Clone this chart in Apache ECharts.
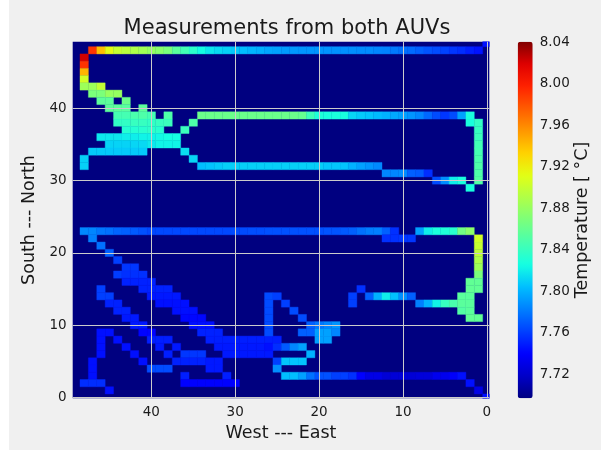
<!DOCTYPE html>
<html>
<head>
<meta charset="utf-8">
<script src="https://cdn.jsdelivr.net/npm/echarts@6/dist/echarts.min.js"></script>
<style>
  html, body { margin: 0; padding: 0; background: #fff; }
  #panel { position: absolute; left: 9px; top: 0; width: 592px; height: 450px; background: #f0f0f0; }
  #chart { position: absolute; left: 0; top: 0; width: 601px; height: 455px; }
</style>
</head>
<body>
<div id="panel"></div>
<div id="chart"></div>
<script>
// cells: [west-east index, south-north index, temperature]
const northTrack = [
  [47,48,7.99],[46,48,7.94],[45,48,7.913],[44,48,7.90],[43,48,7.895],[42,48,7.89],[41,48,7.885],[40,48,7.88],
  [39,48,7.875],[38,48,7.869],[37,48,7.855],[36,48,7.845],[35,48,7.835],[34,48,7.825],[33,48,7.817],[32,48,7.813],
  [31,48,7.81],[30,48,7.807],[29,48,7.804],[28,48,7.801],[27,48,7.799],[26,48,7.796],[25,48,7.794],[24,48,7.792],
  [23,48,7.791],[22,48,7.79],[21,48,7.79],[20,48,7.79],[19,48,7.789],[18,48,7.789],[17,48,7.788],[16,48,7.788],
  [15,48,7.787],[14,48,7.787],[13,48,7.785],[12,48,7.784],[11,48,7.781],[10,48,7.778],[9,48,7.776],[8,48,7.772],
  [7,48,7.768],[6,48,7.765],[5,48,7.762],[4,48,7.758],[3,48,7.755],[2,48,7.75],[1,48,7.746],[0,49,7.745]
];
const westLoop = [
  [48,47,8.022],[48,46,7.991],[48,45,7.944],[48,44,7.905],
  [48,43,7.883],[47,43,7.883],[46,43,7.898],
  [47,42,7.869],[46,42,7.869],[45,42,7.88],[44,42,7.88],
  [46,41,7.856],[45,41,7.856],[43,41,7.862],
  [45,40,7.856],[44,40,7.856],[43,40,7.854],[41,40,7.856],
  [44,39,7.846],[43,39,7.846],[42,39,7.848],[41,39,7.85],[40,39,7.846],[38,39,7.85],
  [44,38,7.838],[43,38,7.838],[42,38,7.84],[41,38,7.84],[40,38,7.838],[39,38,7.84],[38,38,7.842],[35,38,7.85],
  [43,37,7.832],[42,37,7.832],[41,37,7.834],[40,37,7.836],[39,37,7.834],[36,37,7.842],
  [46,36,7.818],[45,36,7.818],[44,36,7.818],[43,36,7.82],[42,36,7.82],[41,36,7.822],[40,36,7.822],[39,36,7.824],[38,36,7.826],[37,36,7.826],
  [45,35,7.811],[44,35,7.811],[43,35,7.811],[42,35,7.812],[41,35,7.813],[40,35,7.818],[39,35,7.822],[38,35,7.822],[37,35,7.822],
  [47,34,7.808],[46,34,7.808],[45,34,7.808],[44,34,7.808],[43,34,7.808],[42,34,7.808],[41,34,7.808],[36,34,7.815],
  [48,33,7.81],[35,33,7.812],[48,32,7.81]
];
const northLeg = [
  [34,39,7.862],[33,39,7.862],[32,39,7.862],[31,39,7.862],[30,39,7.862],[29,39,7.862],[28,39,7.862],[27,39,7.862],
  [26,39,7.862],[25,39,7.862],[24,39,7.862],[23,39,7.862],[22,39,7.86],[21,39,7.843],[20,39,7.83],[19,39,7.828],
  [18,39,7.828],[17,39,7.827],[16,39,7.812],[15,39,7.808],[14,39,7.806],[13,39,7.803],[12,39,7.8],[11,39,7.797],
  [10,39,7.794],[9,39,7.79],[8,39,7.785],[7,39,7.775],[6,39,7.765],[5,39,7.758],[4,39,7.765],[3,39,7.794],[2,39,7.828],
  [2,38,7.828],[1,38,7.838],[1,37,7.84],[1,36,7.842],[1,35,7.845],[1,34,7.846],[1,33,7.848],[1,32,7.85],[1,31,7.85],[1,30,7.852],
  [6,30,7.765],[5,30,7.788],[4,30,7.82],[3,30,7.828],[2,29,7.828]
];
const southLeg = [
  [34,32,7.804],[33,32,7.806],[32,32,7.808],[31,32,7.81],[30,32,7.81],[29,32,7.81],[28,32,7.81],[27,32,7.81],
  [26,32,7.81],[25,32,7.81],[24,32,7.81],[23,32,7.81],[22,32,7.81],[21,32,7.81],[20,32,7.81],[19,32,7.807],
  [18,32,7.807],[17,32,7.806],[16,32,7.8],[15,32,7.794],[14,32,7.79],[13,32,7.786],
  [12,31,7.785],[11,31,7.785],[10,31,7.787],[9,31,7.772],[8,31,7.77],[7,31,7.755]
];
const equatorRow = [
  [48,23,7.786],[47,23,7.785],[46,23,7.78],[45,23,7.778],[44,23,7.774],[43,23,7.772],[42,23,7.77],[41,23,7.767],
  [40,23,7.764],[39,23,7.764],[38,23,7.764],[37,23,7.764],[36,23,7.764],[35,23,7.764],[34,23,7.764],[33,23,7.764],
  [32,23,7.764],[31,23,7.764],[30,23,7.765],[29,23,7.765],[28,23,7.766],[27,23,7.766],[26,23,7.767],[25,23,7.767],
  [24,23,7.767],[23,23,7.767],[22,23,7.767],[21,23,7.767],[20,23,7.767],[19,23,7.768],[18,23,7.768],[17,23,7.77],
  [16,23,7.772],[15,23,7.778],[14,23,7.782],[13,23,7.783],[12,23,7.772],[11,23,7.756],
  [12,22,7.756],[11,22,7.756],[10,22,7.758],[9,22,7.758],
  [8,23,7.794],[7,23,7.82],[6,23,7.828],[5,23,7.83],[4,23,7.834],[3,23,7.865],[2,23,7.876]
];
const eastLeg = [
  [1,22,7.905],[1,21,7.9],[1,20,7.897],[1,19,7.89],[1,18,7.883],[1,17,7.869],
  [2,16,7.858],[1,16,7.858],[2,15,7.858],[1,15,7.858],[3,14,7.855],[2,14,7.855],
  [8,13,7.783],[7,13,7.8],[6,13,7.822],[5,13,7.84],[4,13,7.848],[3,13,7.855],[2,13,7.855],
  [3,12,7.852],[2,12,7.855],[2,11,7.858],[1,11,7.858],
  [16,14,7.761],[15,15,7.756],[16,13,7.761],
  [14,14,7.772],[13,14,7.8],[12,14,7.82],[11,14,7.805],[10,14,7.788],[9,14,7.772]
];
const westDiagonals = [
  [47,22,7.783],[46,21,7.778],[45,20,7.772],[44,19,7.761],[43,18,7.758],[42,18,7.758],
  [44,17,7.76],[43,17,7.756],[42,17,7.756],[41,17,7.756],
  [43,16,7.751],[42,16,7.751],[41,16,7.751],[40,16,7.751],
  [46,15,7.761],[41,15,7.751],[40,15,7.751],[39,15,7.751],[38,15,7.751],
  [46,14,7.761],[45,14,7.761],[40,14,7.748],[39,14,7.748],[38,14,7.748],[37,14,7.748],
  [45,13,7.751],[44,13,7.751],[39,13,7.745],[38,13,7.745],[37,13,7.745],[36,13,7.745],
  [44,12,7.751],[43,12,7.751],[37,12,7.745],[36,12,7.745],[35,12,7.745],
  [43,11,7.748],[42,11,7.748],[36,11,7.742],[35,11,7.742],[34,11,7.742],
  [42,10,7.748],[41,10,7.748],[35,10,7.745],[34,10,7.745],[33,10,7.745],
  [46,9,7.745],[45,9,7.745],[41,9,7.741],[40,9,7.741],[34,9,7.751],[33,9,7.751],[32,9,7.751],
  [46,8,7.745],[44,8,7.745],[40,8,7.75],[39,8,7.75],[38,8,7.75],
  [46,7,7.745],[43,7,7.745],[39,7,7.748],[37,7,7.748],
  [46,6,7.745],[42,6,7.745],[38,6,7.75],
  [47,5,7.745],[41,5,7.745],[47,4,7.745],[40,4,7.765],[39,4,7.765],[38,4,7.765],
  [47,3,7.745],[36,3,7.75],[31,3,7.75],
  [48,2,7.755],[47,2,7.755],[46,2,7.755],[45,1,7.745]
];
const centralPatch = [
  [33,8,7.75],[32,8,7.75],[31,8,7.75],[30,8,7.75],[29,8,7.75],[28,8,7.75],[27,8,7.75],[26,8,7.75],[25,8,7.75],
  [32,7,7.748],[31,7,7.748],[30,7,7.748],[29,7,7.748],[28,7,7.748],[27,7,7.748],[26,7,7.745],
  [36,6,7.758],[35,6,7.758],[34,6,7.758],[31,6,7.748],[30,6,7.748],[29,6,7.748],[28,6,7.748],[27,6,7.748],[26,6,7.748],
  [37,5,7.751],[36,5,7.751],[35,5,7.751],[34,5,7.751],[33,5,7.748],[32,5,7.748],
  [33,4,7.748],[32,4,7.748],
  [36,2,7.74],[35,2,7.74],[34,2,7.74],[33,2,7.74],[32,2,7.74],[31,2,7.74],[30,2,7.74],
  [26,14,7.765],[25,14,7.761],[26,13,7.765],[24,13,7.761],[26,12,7.765],[23,12,7.765],[26,11,7.765],[22,11,7.765],
  [26,10,7.765],[21,10,7.772],[20,10,7.78],[19,10,7.785],[18,10,7.79],
  [26,9,7.765],[22,9,7.772],[21,9,7.772],[20,9,7.794],[19,9,7.794],[18,9,7.785],[20,8,7.794],[19,8,7.794],
  [26,7,7.745],[25,7,7.755],[24,7,7.77],[23,7,7.785],[22,7,7.794],[21,6,7.8],
  [25,5,7.761],[24,5,7.806],[23,5,7.806],[22,5,7.806],[25,4,7.788]
];
const southRow = [
  [24,3,7.804],[23,3,7.804],[22,3,7.794],[21,3,7.778],[20,3,7.767],[19,3,7.767],[18,3,7.761],[17,3,7.761],
  [16,3,7.756],[15,3,7.74],[14,3,7.73],[13,3,7.73],[12,3,7.724],[11,3,7.724],[10,3,7.724],[9,3,7.724],
  [8,3,7.726],[7,3,7.726],[6,3,7.733],[5,3,7.733],[4,3,7.738],[3,3,7.745],
  [2,2,7.745],[1,1,7.73],[0,0,7.745]
];

const xTickValues = [0, 10, 20, 30, 40];
const yTickValues = [0, 10, 20, 30, 40];
const colorbarTicks = [7.72, 7.76, 7.80, 7.84, 7.88, 7.92, 7.96, 8.00, 8.04];
const tempMin = 7.697, tempMax = 8.0406;

// jet colour map, sampled every 1/16
const jet = ['#000080','#0000c8','#0000ff','#0040ff','#0080ff','#00bfff','#15ffe2','#48ffaf','#7bff7b',
  '#afff48','#e2ff15','#ffd200','#ff9700','#ff5c00','#ff2100','#df0000','#800000'];

const cells = [].concat(northTrack, westLoop, northLeg, southLeg, equatorRow, eastLeg, westDiagonals, centralPatch, southRow);

const font = 'DejaVu Sans';
const chart = echarts.init(document.getElementById('chart'));

function renderCell(params, api) {
  const x = api.value(0), y = api.value(1);
  const a = api.coord([x + 0.5, y + 0.5]);
  const b = api.coord([x - 0.5, y - 0.5]);
  const shape = echarts.graphic.clipRectByRect({
    x: Math.min(a[0], b[0]), y: Math.min(a[1], b[1]),
    width: Math.abs(b[0] - a[0]), height: Math.abs(b[1] - a[1])
  }, params.coordSys);
  if (!shape) return;
  const c = api.visual('color');
  return { type: 'rect', shape: shape, style: { fill: c, stroke: c, lineWidth: 0.4 } };
}

chart.setOption({
  animation: false,
  textStyle: { fontFamily: font },
  title: {
    text: 'Measurements from both AUVs',
    left: 282, top: 13, textAlign: 'center',
    textStyle: { fontFamily: font, fontSize: 21, fontWeight: 'normal', color: '#1a1a1a' }
  },
  grid: [
    { left: 72.7, top: 41.7, width: 416.6, height: 356.6, show: true, backgroundColor: '#000080', borderWidth: 0 },
    { left: 517.7, top: 41.7, width: 15, height: 356.6 }
  ],
  xAxis: [
    {
      type: 'value', gridIndex: 0, min: -0.29, max: 49.37, inverse: true, z: 5,
      name: 'West --- East', nameLocation: 'middle', nameGap: 22,
      nameTextStyle: { fontFamily: font, fontSize: 17.5, color: '#1a1a1a' },
      axisLine: { show: false },
      axisTick: { show: false, customValues: xTickValues },
      axisLabel: { customValues: xTickValues, fontSize: 13.5, color: '#1a1a1a', margin: 7 },
      splitLine: { show: true, lineStyle: { color: '#cbcbcb', width: 1 } }
    },
    { type: 'value', gridIndex: 1, show: false, min: 0, max: 1 }
  ],
  yAxis: [
    {
      type: 'value', gridIndex: 0, min: -0.1, max: 49.19, z: 5,
      name: 'South --- North', nameLocation: 'middle', nameGap: 31, nameRotate: 90,
      nameTextStyle: { fontFamily: font, fontSize: 17.5, color: '#1a1a1a' },
      axisLine: { show: false },
      axisTick: { show: false, customValues: yTickValues },
      axisLabel: { customValues: yTickValues, fontSize: 13.5, color: '#1a1a1a', margin: 6 },
      splitLine: { show: true, lineStyle: { color: '#cbcbcb', width: 1 } }
    },
    {
      type: 'value', gridIndex: 1, position: 'right', min: tempMin, max: tempMax,
      name: 'Temperature [ °C]', nameLocation: 'middle', nameGap: 41, nameRotate: 90,
      nameTextStyle: { fontFamily: font, fontSize: 17.5, color: '#1a1a1a' },
      axisLine: { show: false },
      axisTick: { show: false, customValues: colorbarTicks },
      axisLabel: { customValues: colorbarTicks, fontSize: 13.5, color: '#1a1a1a', margin: 7,
        formatter: v => v.toFixed(2) },
      splitLine: { show: false }
    }
  ],
  visualMap: {
    type: 'continuous', min: tempMin, max: tempMax, dimension: 2, seriesIndex: 0,
    calculable: false, hoverLink: false, orient: 'vertical',
    left: 517.7, top: 41.7, itemWidth: 15, itemHeight: 356.6, padding: 0,
    inRange: { color: jet }
  },
  series: [{
    type: 'custom', xAxisIndex: 0, yAxisIndex: 0,
    renderItem: renderCell,
    encode: { x: 0, y: 1 },
    data: cells
  }]
});
</script>
</body>
</html>
